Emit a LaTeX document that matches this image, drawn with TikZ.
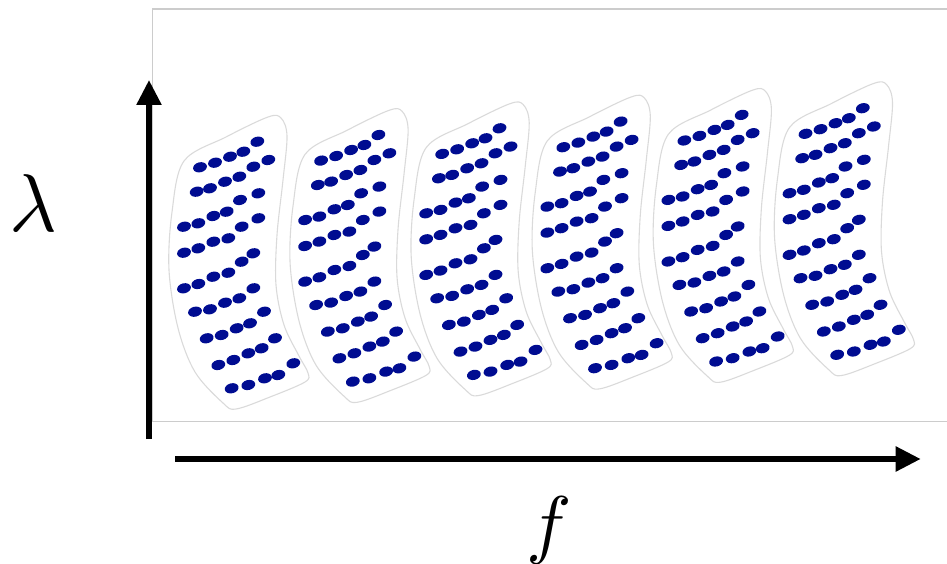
\documentclass[tikz,border=0pt]{standalone}
\usetikzlibrary{arrows.meta}
\definecolor{dotc}{RGB}{0,12,145}
\definecolor{framec}{RGB}{204,204,204}
\definecolor{blobc}{RGB}{218,218,218}
\tikzset{
  axisline/.style={line width=5.5pt,-{Triangle[length=25pt,width=24pt]}},
  framebox/.style={draw=framec,line width=1.5pt},
  blobline/.style={draw=blobc,line width=1.1pt},
  dot/.style={fill=dotc},
  biglabel/.style={inner sep=0pt,scale=8.2}
}
\begin{document}
\begin{tikzpicture}[x=1pt,y=-1pt]
\useasboundingbox (0,0) rectangle (947,564);
% frame
\draw[framebox] (947,9) -- (152.7,9) -- (152.7,421.7) -- (947,421.7);
% blobs
\foreach \k in {0,...,5}{
\begin{scope}[shift={(121.1*\k,-6.7*\k)}]
\draw[blobline] plot[smooth cycle,tension=0.55] coordinates{
 (184,161) (226,137) (268,117) (281,118) (287,136) (283,180) (277,235) (276,285)
 (284,325) (299,356) (308,373) (305,382) (270,397) (236,409) (223,403)
 (195,372) (178,328) (169,270) (172,212)};
\foreach \x/\y in {
257.3/141.7, 268.3/160,
243.3/151.7, 230/156.7, 215/162.7, 200/167.3,
253.3/166.7,
239.3/176.7, 225/181.7, 210/188.3, 196.7/191.7,
258.3/193.3,
240/200,
226.7/211.7, 213.3/216, 198.3/223.3, 184/226.7,
258.3/218.3,
241.7/226.7,
228.3/238.3, 213.3/241.7, 198.3/248.3, 184/252.7,
253.3/253.3,
241.7/261.7,
228.3/272.7, 213.3/276.7, 198.3/284, 184/288.3,
253.3/288.3,
239.3/298.3, 225/302.7, 210/309.3, 195/311.7,
264/311.7,
250/323.3, 236.7/328.3, 221.7/335, 206.7/338.3,
275/338.3,
261.7/348.3, 248.3/353.3, 233.3/360, 218.3/365,
293.3/363.3,
278.3/375, 265/378.3, 248.3/385, 231.7/388.3}{
 \fill[dot,shift={(\x,\y)},rotate=14] (0,0) ellipse [x radius=7pt,y radius=5pt];
}
\end{scope}
}
% axes
\coordinate (ybot) at (149,439);
\coordinate (ytop) at (149,80);
\coordinate (xleft) at (175,459);
\coordinate (xright) at (920.7,459);
\draw[axisline] (ybot) -- (ytop);
\draw[axisline] (xleft) -- (xright);
% labels
\node[biglabel,anchor=base] (lam) at (33.5,231) {$\lambda$};
\node[biglabel,anchor=base,scale=7.6/8.2] (fl) at (549,549) {$f$};
\end{tikzpicture}
\end{document}
